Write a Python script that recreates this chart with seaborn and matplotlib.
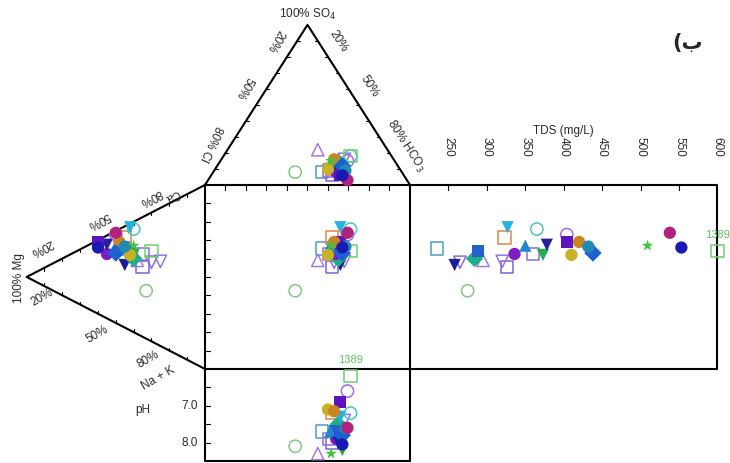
import numpy as np
import pandas as pd
import matplotlib
matplotlib.use('Agg')
import matplotlib.pyplot as plt
import seaborn as sns

# --- sample chemistry (% of meq/L), TDS and pH ---
ca   = [43, 34, 43, 40, 43, 40, 38, 46, 56, 49, 35, 56, 42, 45, 42, 40, 48, 39, 41, 45, 38, 44, 47, 49, 36, 49, 26]
mg   = [45, 45, 30, 40, 42, 38, 35, 25, 42, 45, 55, 40, 50, 35, 40, 55, 50, 60, 42, 48, 50, 45, 40, 50, 60, 30, 33]
na_k = [12, 21, 27, 20, 15, 22, 27, 29, 2, 6, 10, 4, 8, 20, 18, 5, 2, 1, 17, 7, 12, 11, 13, 1, 4, 21, 41]
so4  = [8, 10, 12, 14, 11, 22, 6, 16, 12, 10, 8, 18, 12, 9, 10, 8, 15, 6, 10, 16, 12, 9, 15, 3, 6, 18, 8]
hco3 = [53, 61, 57, 58, 58, 44, 59, 60, 60, 57, 60, 62, 55, 56, 62, 61, 62, 63, 55, 55, 61, 64, 54, 68, 64, 62, 40]
cl   = [39, 29, 31, 28, 31, 34, 35, 24, 28, 33, 32, 20, 33, 35, 28, 31, 23, 31, 35, 29, 27, 27, 31, 29, 30, 20, 52]
tds  = [235, 258, 265, 284, 288, 295, 326, 320, 327, 323, 336, 365, 350, 360, 373, 378,
        404, 404, 410, 420, 438, 432, 509, 538, 553, 1389, 275]
ph   = [7.7, 7.9, 7.8, 7.5, 7.7, 8.3, 8.0, 7.4, 7.3, 7.2, 7.9, 7.2, 7.7, 7.9, 8.2, 8.0,
        6.6, 6.9, 7.1, 7.15, 7.8, 7.6, 8.3, 7.6, 8.05, 6.2, 8.1]
marker = ['s', 'v', 'v', 'D', 's', '^', 's', 'v', 'v', 's', 'o', 'o', '^', 's', 'v', 'v',
          'o', 's', 'o', 'o', 'D', 'o', '*', 'o', 'o', 's', 'o']
color = ['#4a9cc8', '#1c1c9c', '#8a6ae0', '#1fae86', '#2461c9', '#a47ae6', '#7e62d4', '#9a72e2',
         '#22b2dc', '#e0834a', '#7a1ec4', '#48c4c4', '#1f86d2', '#8c6ee0', '#22b04e', '#22229e',
         '#a46ae2', '#5e12c0', '#c6b222', '#c98522', '#1a62d2', '#208ab2', '#44c23e', '#b0227c',
         '#1a1ab2', '#6ecf6e', '#82c882']
filled = [0, 1, 0, 1, 1, 0, 0, 0, 1, 0, 1, 0, 1, 0, 1, 1, 0, 1, 1, 1, 1, 1, 1, 1, 1, 0, 0]
labelled = {25: '1389'}

tds_ticks = [250, 300, 350, 400, 450, 500, 550, 600]
ph_ticks = [7.0, 8.0]

# --- diagram geometry (square is 100 x 100) ---
H = 87.0                 # triangle height
TDS_MIN, TDS_MAX, TDS_W = 200, 600, 150
PH_MIN, PH_SCALE = 6.0, 20.0


def anion_xy(c, s, h):
    t = c + s + h
    return (100 * h + 50 * s) / t, 100 + H * s / t


def cation_xy(a, m, n):
    t = a + m + n
    return -H * m / t, (100 * a + 50 * m) / t


def tds_x(v):
    return 100 + (min(v, TDS_MAX) - TDS_MIN) / (TDS_MAX - TDS_MIN) * TDS_W


def ph_y(v):
    return -(v - PH_MIN) * PH_SCALE


rows = []
for i in range(len(ca)):
    ax_, ay_ = anion_xy(cl[i], so4[i], hco3[i])
    cx_, cy_ = cation_xy(ca[i], mg[i], na_k[i])
    base = dict(id=i, marker=marker[i], filled=filled[i])
    rows.append(dict(base, panel='anion', x=ax_, y=ay_))
    rows.append(dict(base, panel='cation', x=cx_, y=cy_))
    rows.append(dict(base, panel='square', x=ax_, y=cy_))
    rows.append(dict(base, panel='tds', x=tds_x(tds[i]), y=cy_))
    rows.append(dict(base, panel='ph', x=ax_, y=ph_y(ph[i])))
df = pd.DataFrame(rows)

sns.set_style('white')
plt.rcParams['font.family'] = ['Liberation Sans', 'DejaVu Sans']

fig = plt.figure(figsize=(7.3, 4.63), dpi=100)
ax = fig.add_axes([0, 0, 1, 1])
ax.set_xlim(-100, 256.1)
ax.set_ylim(-51.1, 200.5)
ax.axis('off')

LW = 1.5
k = dict(color='black', lw=LW, solid_capstyle='projecting', zorder=2)
# frames
ax.plot([0, 50, 100], [100, 100 + H, 100], **k)
ax.plot([0, -H, 0], [100, 50, 0], **k)
ax.plot([0, 250, 250, 0, 0], [0, 0, 100, 100, 0], **k)
ax.plot([100, 100], [100, 0], **k)
ax.plot([0, 0, 100, 100], [0, -50, -50, 0], **k)

tk = dict(color='black', lw=0.8, zorder=2)
for f in np.arange(0.1, 1.0, 0.1):
    # square top / left
    ax.plot([100 * f, 100 * f], [100, 97.4], **tk)
    ax.plot([0, 2.4], [100 * f, 100 * f], **tk)
    # top triangle sides
    ax.plot([50 * f, 50 * f + 1.3], [100 + H * f, 100 + H * f], **tk)
    ax.plot([100 - 50 * f, 100 - 50 * f - 1.3], [100 + H * f, 100 + H * f], **tk)
    # left triangle sides
    ax.plot([-H * f, -H * f], [100 - 50 * f, 100 - 50 * f - 1.6], **tk)
    ax.plot([-H * f, -H * f], [50 * f, 50 * f + 1.6], **tk)
for v in tds_ticks[:-1]:
    ax.plot([tds_x(v), tds_x(v)], [100, 97.2], **tk)
for v in [6.5, 7.0, 7.5, 8.0]:
    ax.plot([0, 2.4], [ph_y(v), ph_y(v)], **tk)

# points
pal = {i: c for i, c in enumerate(color)}
mk = {m: m for m in set(marker)}
for is_filled, grp in df.groupby('filled'):
    sns.scatterplot(data=grp, x='x', y='y', hue='id', style='marker', palette=pal,
                    markers=mk, s=78, linewidth=0 if is_filled else 1.1,
                    legend=False, ax=ax, zorder=3)
    if not is_filled:
        coll = ax.collections[-1]
        coll.set_edgecolors(coll.get_facecolors())
        coll.set_facecolors('none')

for i, lab in labelled.items():
    for p in ['tds', 'ph']:
        r = df[(df.id == i) & (df.panel == p)].iloc[0]
        ax.annotate(lab, (r.x, r.y), xytext=(0, 12), textcoords='offset points',
                    ha='center', va='center', fontsize=8, color='#5cc45c')

tx = dict(fontsize=8.5, color='#2a2a2a', ha='center', va='center')
ax.text(50, 192.4, '100% SO$_4$', **tx)
ax.text(34.1, 178.3, '20%', rotation=240, **tx)
ax.text(19.0, 152.7, '50%', rotation=240, **tx)
ax.text(3.0, 122.8, '80% Cl', rotation=245, **tx)
ax.text(64.9, 178.3, '20%', rotation=-57, **tx)
ax.text(80.0, 153.8, '50%', rotation=-57, **tx)
ax.text(97.8, 121.2, '80% HCO$_3$', rotation=-57, **tx)

ax.text(-16.1, 94.6, 'Ca', rotation=207.7, **tx)
ax.text(-26.8, 93.5, '80%', rotation=207.7, **tx)
ax.text(-52.2, 81.0, '50%', rotation=207.7, **tx)
ax.text(-80.0, 66.3, '20%', rotation=207.7, **tx)
ax.text(-90.7, 49.5, '100% Mg', rotation=90, **tx)
ax.text(-79.5, 38.6, '20%', rotation=30, **tx)
ax.text(-52.7, 19.0, '50%', rotation=30, **tx)
ax.text(-27.8, 4.9, '80%', rotation=30, **tx)
ax.text(-22.9, -4.9, 'Na + K', rotation=30, **tx)

ax.text(174.6, 129.3, 'TDS (mg/L)', **tx)
for v in tds_ticks:
    ax.text(tds_x(v), 120.7, str(v), rotation=-90, **tx)

ax.text(-30.2, -22.3, 'pH', **tx)
for v in ph_ticks:
    ax.text(-3.4, ph_y(v), f'{v:.1f}', fontsize=8.5, color='#2a2a2a', ha='right', va='center')

ax.text(235.6, 177.2, '(\u0628', fontsize=15, fontweight='bold', ha='center', va='center',
        family=['DejaVu Sans'])

fig.savefig('out.png', dpi=100)
